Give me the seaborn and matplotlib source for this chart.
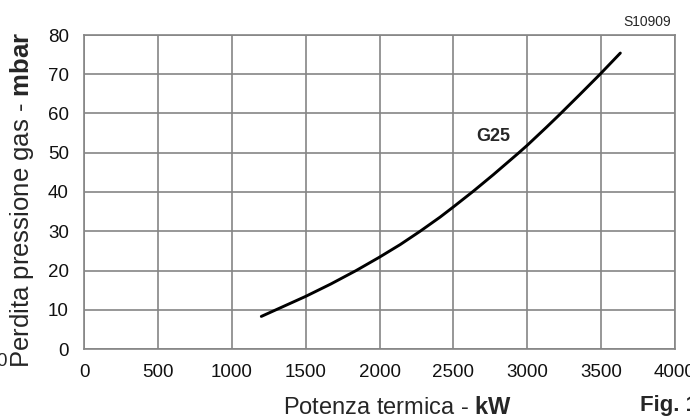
import numpy as np
import pandas as pd
import matplotlib
matplotlib.use("Agg")
import matplotlib.pyplot as plt
import seaborn as sns

# curva perdita di pressione G25
potenza_kw = [1200, 1500, 1670, 1840, 2000, 2140, 2275, 2410, 2500, 2635,
              2770, 2940, 3000, 3130, 3210, 3355, 3490, 3630]
perdita_mbar = [8.3, 13.4, 16.55, 19.95, 23.4, 26.6, 30.0, 33.6, 36.2, 40.2,
                44.4, 49.9, 51.9, 56.5, 59.4, 64.8, 69.9, 75.4]
x_ticks = [0, 500, 1000, 1500, 2000, 2500, 3000, 3500, 4000]
y_ticks = [0, 10, 20, 30, 40, 50, 60, 70, 80]

sns.set_style("white")
plt.rcParams['font.family'] = ['Liberation Sans', 'DejaVu Sans']
plt.rcParams['mathtext.fontset'] = 'custom'
plt.rcParams['mathtext.rm'] = 'Liberation Sans'
plt.rcParams['mathtext.bf'] = 'Liberation Sans:bold'

df = pd.DataFrame({'potenza': potenza_kw, 'perdita': perdita_mbar})

fig = plt.figure(figsize=(6.9, 4.2), dpi=100)
ax = fig.add_axes([84 / 690, 1 - 349 / 420, 591 / 690, 314 / 420])

sns.lineplot(data=df, x='potenza', y='perdita', ax=ax, color='black',
             linewidth=2.1, estimator=None, sort=True)
ax.lines[0].set_solid_joinstyle('round')

ax.set_xlim(0, 4000)
ax.set_ylim(0, 80)
ax.set_xticks(x_ticks)
ax.set_yticks(y_ticks)
ax.grid(True, color='#858585', linewidth=1.2)
for s in ax.spines.values():
    s.set_color('#858585')
    s.set_linewidth(1.2)
ax.tick_params(length=0, labelsize=13.5, colors='#111111')
ax.tick_params(axis='x', pad=11)
ax.tick_params(axis='y', pad=11)
ax.set_xlabel('')
ax.set_ylabel('')

fig.text(398 / 690, 1 - 408 / 420, 'Potenza termica - $\\mathbf{kW}$', ha='center',
         va='center', fontsize=17)
fig.text(22 / 690, 1 - 200 / 420, 'Perdita pressione gas - $\\mathbf{mbar}$', rotation=90,
         ha='center', va='center', fontsize=18.5)

ax.text(2770, 54.2, 'G25', fontsize=13, fontweight='bold', ha='center', va='center')
fig.text(647 / 690, 1 - 22 / 420, 'S10909', fontsize=10, ha='center', va='center')
fig.text(640 / 690, 1 - 406 / 420, 'Fig. 1', fontsize=16, fontweight='bold',
         ha='left', va='center')
fig.text(-4 / 690, 1 - 362 / 420, '0', fontsize=13.5, ha='left', va='center')

fig.savefig('out.png', dpi=100)
